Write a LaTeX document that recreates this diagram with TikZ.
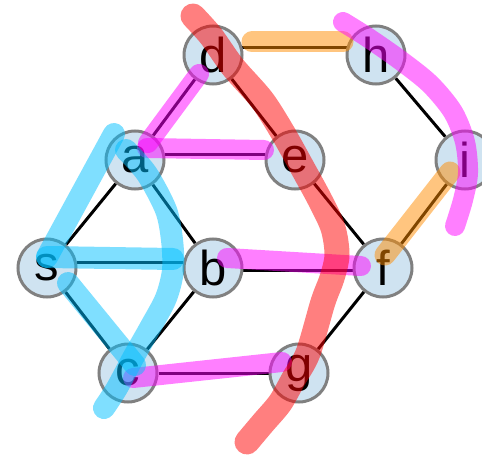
\documentclass[tikz,border=0pt]{standalone}
\usepackage{fontspec}
\newfontfamily\labelfont{Liberation Sans}
\usetikzlibrary{backgrounds}

\definecolor{nodefill}{RGB}{207,227,241}
\definecolor{nodeline}{RGB}{128,128,128}
\definecolor{hlred}{RGB}{255,0,0}
\definecolor{hlmagenta}{RGB}{255,0,255}
\definecolor{hlorange}{RGB}{255,140,0}
\definecolor{hlcyan}{RGB}{0,191,255}

\tikzset{
	vertex/.style={circle, draw=nodeline, fill=nodefill, line width=3pt, minimum size=58pt, inner sep=0pt, font=\labelfont\fontsize{49}{49}\selectfont},
	edge/.style={line width=3pt, black},
	marker/.style={line width=#1, line cap=round, line join=round, opacity=0.5},
}

\begin{document}
	\begin{tikzpicture}[x=1pt, y=-1pt]
		\useasboundingbox (0,0) rectangle (482,460);
		\clip (0,0) rectangle (482,460);
		
		\node (d) [vertex] at (213,55) {d};
		\node (h) [vertex] at (376,55) {h};
		\node (a) [vertex] at (135,160) {a};
		\node (e) [vertex] at (295,160) {e};
		\node (i) [vertex] at (465,160) {i};
		\node (s) [vertex] at (47,268) {s};
		\node (b) [vertex] at (213,268) {b};
		\node (f) [vertex] at (383,268) {f};
		\node (c) [vertex] at (128,373) {c};
		\node (g) [vertex] at (299,373) {g};
		
		\begin{scope}[on background layer]
			\draw[edge] (d.15) -- (h.165);
			\draw[edge] (d) -- (a);
			\draw[edge] (d) -- (e);
			\draw[edge] (a.10) -- (e.170);
			\draw[edge] (h) -- (i);
			\draw[edge] (a) -- (s);
			\draw[edge] (a) -- (b);
			\draw[edge] (e) -- (f);
			\draw[edge] (i) -- (f);
			\draw[edge] (s.10) -- (b.170);
			\draw[edge] (s) -- (c);
			\draw[edge] (b) -- (c);
			\draw[edge] (b.-5) -- (f.-175);
			\draw[edge] (c) -- (g);
			\draw[edge] (g) -- (f);
		\end{scope}
		
		% highlighter strokes
		\draw[marker=21pt, hlorange] (252,42) -- (343,42);
		\draw[marker=21pt, hlorange] (450,172) -- (385,255);
		
		\draw[marker=20pt, hlmagenta] (199,74) -- (148,143);
		\draw[marker=20pt, hlmagenta] (147,148) -- (264,150);
		\draw[marker=20pt, hlmagenta] (227,258) -- (361,266);
		\draw[marker=20pt, hlmagenta] (133,378) -- (282,362);
		\draw[marker=20pt, hlmagenta] plot[smooth] coordinates {(343,22) (367,37) (400,60) (430,84) (453,112) (465,142) (468,173) (463,200) (455,226)};
		
		\draw[marker=22pt, hlcyan] (114,134) -- (47,257);
		\draw[marker=22pt, hlcyan] (47,257) -- (173,259);
		\draw[marker=22pt, hlcyan] (68,283) -- (135,365);
		\draw[marker=22pt, hlcyan] plot[smooth] coordinates {(126,150) (147,174) (166,210) (172,240) (173,270) (166,298) (150,328) (133,358) (117,388) (104,408)};
		
		\draw[marker=25pt, hlred] plot[smooth] coordinates {(193,16) (211,36) (233,67) (262,100) (283,133) (302,167) (320,200) (333,228) (337,255) (332,278) (323,302) (308,353) (293,380) (280,403) (263,423) (247,442)};
	\end{tikzpicture}
\end{document}
